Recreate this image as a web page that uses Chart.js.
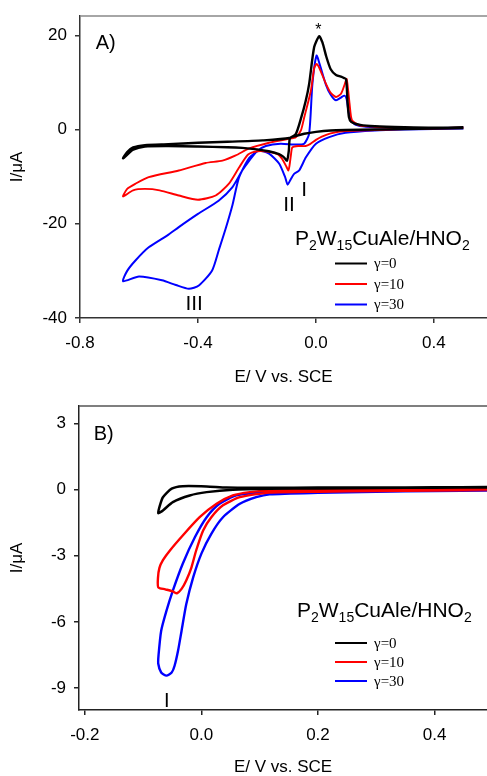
<!DOCTYPE html>
<html><head><meta charset="utf-8">
<script src="https://cdn.jsdelivr.net/npm/chart.js@4/dist/chart.umd.min.js"></script>
<style>
html,body{margin:0;padding:0;background:#fff;width:487px;height:776px;overflow:hidden}
#wa{position:absolute;left:0;top:0;width:487px;height:400px}
#wb{position:absolute;left:0;top:400px;width:487px;height:376px}
</style></head><body>
<div id="wa"><canvas id="ca" width="487" height="400"></canvas></div>
<div id="wb"><canvas id="cb" width="487" height="376"></canvas></div>
<script>
// ---------- Data ----------
const SERIES_LABELS = ['γ=0', 'γ=10', 'γ=30'];
const LEGEND_TITLE = [['P',0],['2',1],['W',0],['15',1],['CuAle/HNO',0],['2',1]];

// Panel A tick labels
const A_XTICKS = [-0.8, -0.4, 0.0, 0.4];
const A_YTICKS = [-40, -20, 0, 20];
// Panel B tick labels
const B_XTICKS = [-0.2, 0.0, 0.2, 0.4];
const B_YTICKS = [-9, -6, -3, 0, 3];

// Panel A: gamma = 0
const A_G0_E = [0.50,0.40,0.30,0.20,0.10,0.05,0.00,-0.04,-0.07,-0.088,-0.092,-0.098,-0.11,-0.125,-0.16,-0.20,-0.25,-0.30,-0.40,-0.50,-0.58,-0.62,-0.654,
  -0.64,-0.62,-0.58,-0.50,-0.40,-0.30,-0.18,-0.09,-0.068,-0.051,-0.035,-0.023,-0.006,0.011,0.022,0.035,0.05,0.068,0.09,0.102,0.107,0.112,0.12,0.15,0.20,0.30,0.40,0.50];
const A_G0_I = [0.3,0.2,0.1,0.0,-0.1,-0.2,-0.5,-0.9,-1.4,-1.8,-4.5,-6.6,-5.8,-5.2,-4.6,-4.2,-3.9,-3.75,-3.6,-3.5,-3.6,-4.3,-6.1,
  -4.8,-3.8,-3.3,-3.1,-2.8,-2.6,-2.3,-1.8,-0.9,2.3,6.0,9.7,17.5,19.8,18.5,15.5,12.8,11.6,11.1,10.7,6.0,2.6,1.6,1.0,0.7,0.5,0.4,0.5];
// Panel A: gamma = 10
const A_G10_E = [0.50,0.40,0.30,0.20,0.10,0.05,0.02,0.00,-0.02,-0.035,-0.06,-0.08,-0.085,-0.09,-0.094,-0.10,-0.115,-0.13,-0.16,-0.20,-0.23,-0.26,-0.295,-0.34,-0.40,-0.465,-0.53,-0.58,-0.62,-0.654,
  -0.64,-0.612,-0.567,-0.465,-0.374,-0.317,-0.272,-0.226,-0.159,-0.096,-0.068,-0.051,-0.04,-0.017,-0.006,0.002,0.012,0.034,0.05,0.068,0.085,0.097,0.104,0.109,0.114,0.122,0.147,0.20,0.30,0.40,0.50];
const A_G10_I = [0.3,0.2,0.1,-0.1,-0.3,-0.8,-1.5,-2.2,-3.1,-3.5,-3.5,-3.8,-5.5,-7.8,-8.7,-7.9,-6.2,-5.2,-4.7,-4.6,-5.3,-8.0,-11.5,-14.0,-14.9,-14.0,-12.9,-12.6,-12.9,-14.2,
  -12.6,-11.5,-10.1,-8.7,-7.1,-6.6,-5.5,-4.0,-2.8,-2.0,-1.6,-0.2,2.5,8.3,13.0,13.9,13.0,9.7,7.8,6.9,7.6,9.5,10.75,8.5,5.5,2.0,0.9,0.6,0.4,0.3,0.4];
// Panel A: gamma = 30
const A_G30_E = [0.50,0.40,0.30,0.20,0.10,0.045,0.00,-0.034,-0.057,-0.074,-0.085,-0.096,-0.105,-0.125,-0.159,-0.193,-0.226,-0.261,-0.283,-0.306,-0.329,-0.352,-0.397,-0.431,-0.475,-0.522,-0.60,-0.654,
  -0.64,-0.612,-0.567,-0.50,-0.465,-0.40,-0.33,-0.283,-0.25,-0.226,-0.20,-0.17,-0.12,-0.068,-0.04,-0.023,-0.012,0.002,0.012,0.034,0.05,0.068,0.085,0.097,0.104,0.11,0.118,0.135,0.17,0.25,0.35,0.50];
const A_G30_I = [0.2,0.1,0.0,-0.2,-0.7,-1.6,-3.0,-5.9,-8.7,-9.4,-10.5,-11.7,-10.0,-7.2,-5.1,-4.5,-6.0,-10.2,-16.0,-21.0,-25.5,-29.9,-33.1,-33.8,-33.0,-32.0,-31.2,-32.2,
  -30.0,-27.8,-25.0,-22.3,-20.7,-17.9,-15.1,-12.2,-8.7,-6.6,-4.6,-3.5,-3.0,-3.2,-3.0,-0.85,9.7,15.7,14.0,9.5,7.4,6.2,6.8,7.2,6.5,4.0,2.0,1.0,0.6,0.4,0.3,0.4];

// Panel B: gamma = 0
const B_G0_E = [0.49,0.40,0.30,0.20,0.117,0.054,0.009,-0.02,-0.049,-0.066,-0.074,
  -0.071,-0.066,-0.051,-0.032,0.009,0.043,0.117,0.20,0.30,0.40,0.49];
const B_G0_I = [0.10,0.09,0.08,0.06,0.04,0.0,-0.11,-0.26,-0.56,-0.94,-1.06,
  -0.70,-0.34,0.05,0.16,0.15,0.10,0.09,0.10,0.10,0.11,0.12];
// Panel B: gamma = 10
const B_G10_E = [0.49,0.40,0.30,0.20,0.117,0.066,0.037,0.017,0.003,-0.009,-0.017,-0.026,-0.034,-0.042,-0.049,-0.062,-0.074,
  -0.0745,-0.072,-0.066,-0.054,-0.032,-0.003,0.026,0.054,0.083,0.117,0.20,0.30,0.40,0.49];
const B_G10_I = [-0.02,-0.04,-0.06,-0.09,-0.13,-0.34,-0.71,-1.25,-1.85,-2.76,-3.52,-4.12,-4.5,-4.7,-4.62,-4.52,-4.43,
  -4.0,-3.55,-3.2,-2.76,-2.08,-1.25,-0.64,-0.26,-0.11,-0.04,0.0,0.02,0.03,0.04];
// Panel B: gamma = 30
const B_G30_E = [0.49,0.40,0.30,0.20,0.117,0.094,0.066,0.037,0.017,0.0,-0.014,-0.026,-0.034,-0.04,-0.046,-0.051,-0.06,-0.069,-0.074,
  -0.0735,-0.069,-0.06,-0.049,-0.032,-0.011,0.009,0.031,0.06,0.117,0.20,0.30,0.40,0.49];
const B_G30_I = [-0.04,-0.06,-0.09,-0.14,-0.21,-0.34,-0.64,-1.25,-2.0,-2.9,-3.97,-5.2,-6.4,-7.3,-7.99,-8.3,-8.44,-8.3,-7.9,
  -7.5,-6.4,-5.5,-4.58,-3.36,-2.15,-1.25,-0.64,-0.26,-0.11,-0.06,-0.04,-0.02,-0.01];

// Text annotations (anchored in data coordinates)
const A_NOTES = [
  {text:'A)', x:-0.713, y:17.0, size:20},
  {text:'*', x:0.008, y:20.15, size:16},
  {text:'I', x:-0.04, y:-14.0, size:21},
  {text:'II', x:-0.091, y:-17.2, size:21},
  {text:'III', x:-0.413, y:-38.4, size:21}
];
const B_NOTES = [
  {text:'B)', x:-0.1675, y:2.24, size:20},
  {text:'I', x:-0.0595, y:-9.85, size:20}
];

// ---------- Rendering ----------
const SANS = "'Liberation Sans', Arial, Helvetica, sans-serif";
const SERIF = "'Liberation Serif', 'Times New Roman', serif";
const COLORS = ['#000000', '#ff0000', '#0000ff'];

function pts(E, I) { return E.map((e, i) => ({x: e, y: I[i]})); }

const notesPlugin = {
  id: 'notes',
  afterDraw(chart, args, o) {
    const {ctx, chartArea: a, scales: {x, y}} = chart;
    ctx.save();
    // top frame line
    ctx.strokeStyle = o.topColor; ctx.lineWidth = 1.5;
    ctx.beginPath(); ctx.moveTo(a.left, a.top); ctx.lineTo(a.right, a.top); ctx.stroke();
    // annotations
    ctx.fillStyle = '#000'; ctx.textAlign = 'center'; ctx.textBaseline = 'alphabetic';
    o.notes.forEach(n => {
      ctx.font = n.size + 'px ' + SANS;
      ctx.fillText(n.text, x.getPixelForValue(n.x), y.getPixelForValue(n.y));
    });
    // legend title with subscripts
    let tx = o.legX, ty = o.legY;
    ctx.textAlign = 'left';
    LEGEND_TITLE.forEach(([s, sub]) => {
      ctx.font = (sub ? 14 : 21) + 'px ' + SANS;
      ctx.fillText(s, tx, ty + (sub ? 5 : 0));
      tx += ctx.measureText(s).width;
    });
    // legend entries
    ctx.textBaseline = 'middle';
    chart.data.datasets.forEach((ds, i) => {
      const yy = o.entryY + i * o.entryGap;
      ctx.strokeStyle = ds.borderColor; ctx.lineWidth = 2;
      ctx.beginPath(); ctx.moveTo(335, yy); ctx.lineTo(367, yy); ctx.stroke();
      ctx.font = '15px ' + SERIF; ctx.fillStyle = '#000';
      ctx.fillText(ds.label, 374, yy + 1);
    });
    ctx.restore();
  }
};

function makeChart(id, series, cfg) {
  const axisColor = cfg.axisColor;
  return new Chart(document.getElementById(id), {
    type: 'scatter',
    data: {
      datasets: series.map((s, i) => ({
        label: SERIES_LABELS[i], data: pts(s[0], s[1]), showLine: true,
        borderColor: COLORS[i], backgroundColor: COLORS[i], borderWidth: cfg.widths[i],
        pointRadius: 0, tension: 0.22, fill: false
      }))
    },
    options: {
      responsive: false, animation: false, devicePixelRatio: 1,
      layout: {padding: {top: cfg.padTop, left: 0, right: 0, bottom: 0}},
      plugins: {legend: {display: false}, tooltip: {enabled: false},
        notes: {notes: cfg.notes, topColor: cfg.topColor, legX: cfg.legX, legY: cfg.legY, entryY: cfg.entryY, entryGap: cfg.entryGap}},
      scales: {
        x: {
          type: 'linear', min: cfg.xmin, max: cfg.xmax,
          afterBuildTicks: s => { s.ticks = cfg.xticks.map(v => ({value: v})); },
          afterFit: s => { s.height = cfg.xh; s.paddingLeft = 0; s.paddingRight = 0; },
          ticks: {color: '#000', font: {family: SANS, size: 17}, padding: 10, maxRotation: 0, autoSkip: false,
            callback: v => Number(v).toFixed(1)},
          grid: {drawOnChartArea: false, drawTicks: true, tickLength: 5, color: axisColor, lineWidth: 1.5},
          border: {display: true, color: axisColor, width: 1.5},
          title: {display: true, text: 'E/ V vs. SCE', color: '#000', font: {family: SANS, size: 17, lineHeight: 1},
            padding: {top: 0, bottom: cfg.xtitlePad}}
        },
        y: {
          type: 'linear', min: cfg.ymin, max: cfg.ymax,
          afterBuildTicks: s => { s.ticks = cfg.yticks.map(v => ({value: v})); },
          afterFit: s => { s.width = cfg.yw; s.paddingTop = 0; s.paddingBottom = 0; },
          ticks: {color: '#000', font: {family: SANS, size: 17}, padding: 8, autoSkip: false,
            callback: v => String(v)},
          grid: {drawOnChartArea: false, drawTicks: true, tickLength: 5, color: axisColor, lineWidth: 1.5},
          border: {display: true, color: axisColor, width: 1.5},
          title: {display: true, text: 'I/μA', color: '#000', font: {family: SANS, size: 17, lineHeight: 1},
            padding: {top: 9, bottom: 0}}
        }
      }
    },
    plugins: [notesPlugin]
  });
}

makeChart('ca', [[A_G0_E, A_G0_I], [A_G10_E, A_G10_I], [A_G30_E, A_G30_I]], {
  xmin: -0.8, xmax: 0.58, ymin: -40, ymax: 24.1, xticks: A_XTICKS, yticks: A_YTICKS,
  padTop: 16, xh: 82, yw: 80, xtitlePad: 14.5, notes: A_NOTES, axisColor: '#333', topColor: '#888',
  legX: 295, legY: 245, entryY: 263.5, entryGap: 20.5, widths: [2.4, 1.9, 2.0]
});
makeChart('cb', [[B_G0_E, B_G0_I], [B_G10_E, B_G10_I], [B_G30_E, B_G30_I]], {
  xmin: -0.21, xmax: 0.49, ymin: -10, ymax: 3.8, xticks: B_XTICKS, yticks: B_YTICKS,
  padTop: 6, xh: 66, yw: 79, xtitlePad: 0, notes: B_NOTES, axisColor: '#222', topColor: '#555',
  legX: 297, legY: 217, entryY: 243, entryGap: 19, widths: [2.5, 2.4, 2.4]
});
</script></body></html>
